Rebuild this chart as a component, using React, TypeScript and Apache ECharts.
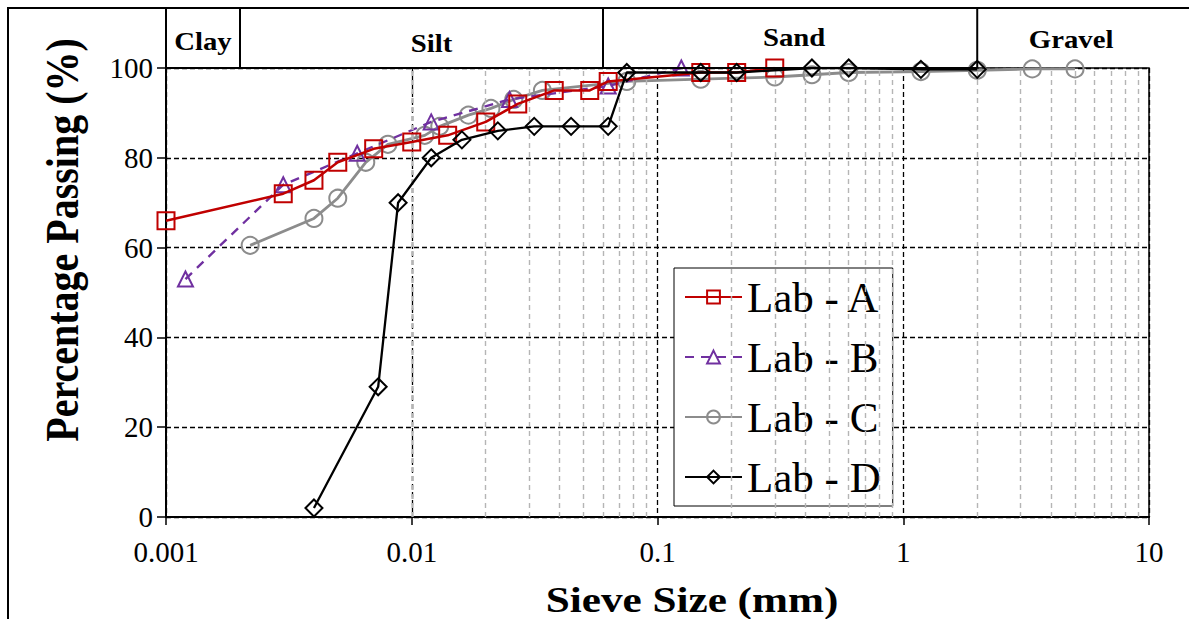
import React, { useEffect, useRef } from 'react';
import * as echarts from 'echarts';

// ---- Data ----
const xTickLabels = ['0.001', '0.01', '0.1', '1', '10'];
const yTickValues = [0, 20, 40, 60, 80, 100];

const bandEdges = [0.001, 0.002, 0.06, 2];
const bandNames = ['Clay', 'Silt', 'Sand', 'Gravel'];

const labA_x = [0.001, 0.003, 0.004, 0.005, 0.007, 0.01, 0.014, 0.02, 0.027, 0.038, 0.053, 0.063, 0.15, 0.21, 0.3];
const labA_y = [66, 72, 75, 79, 82, 83.5, 85, 88, 92, 95, 95, 97, 99, 99, 100];

const labB_x = [0.0012, 0.003, 0.006, 0.012, 0.025, 0.063, 0.125];
const labB_y = [53, 74, 81, 88, 93, 96, 100];

const labC_x = [0.0022, 0.004, 0.005, 0.0065, 0.008, 0.0113, 0.013, 0.017, 0.021, 0.026, 0.034, 0.075, 0.15, 0.3, 0.425, 0.6, 1.18, 2, 3.35, 5];
const labC_y = [60.5, 66.5, 71, 79, 83, 85, 87, 89.5, 91, 93, 95, 97, 97.5, 98, 98.5, 99, 99.2, 99.5, 99.8, 99.8];

const labD_x = [0.004, 0.0073, 0.0088, 0.012, 0.016, 0.0224, 0.0315, 0.0445, 0.063, 0.075, 0.15, 0.21, 0.425, 0.6, 1.18, 2];
const labD_y = [2, 29, 70, 80, 84, 86, 87, 87, 87, 99, 99, 99, 100, 100, 99.7, 99.7];

const seriesNames = ['Lab - A', 'Lab - B', 'Lab - C', 'Lab - D'];

function zip(xs: number[], ys: number[]) {
  return xs.map((x, i) => [x, ys[i]]);
}

// minor grid positions: 2..9 within each decade
const minorGrid: number[] = [];
for (let d = -3; d < 1; d++) {
  for (let m = 2; m <= 9; m++) minorGrid.push(parseFloat((m * Math.pow(10, d)).toPrecision(3)));
}

export default function App() {
  const ref = useRef<HTMLDivElement>(null);

  useEffect(() => {
    const chart = echarts.init(ref.current!, null, { renderer: 'svg' });
    const font = '"Liberation Serif", "Times New Roman", serif';

    const mk = (
      name: string,
      data: number[][],
      color: string,
      symbol: string,
      size: number,
      lineType: any,
      width: number,
      z: number
    ) => ({
      name,
      type: 'line',
      data,
      symbol,
      symbolSize: size,
      showSymbol: true,
      z,
      lineStyle: { color, width, type: lineType },
      itemStyle: { color: 'rgba(255,255,255,0)', borderColor: color, borderWidth: 2 },
      emphasis: { disabled: true },
    });

    const option: any = {
      animation: false,
      backgroundColor: '#fff',
      grid: {
        left: 166,
        right: 40,
        top: 68,
        bottom: 102,
        show: true,
        borderColor: '#000',
        borderWidth: 1.5,
        backgroundColor: 'transparent',
      },
      legend: {
        orient: 'vertical',
        left: 674,
        top: 268,
        data: seriesNames,
        itemWidth: 57,
        itemHeight: 16,
        itemGap: 16,
        padding: [7, 12, 7, 10],
        backgroundColor: '#fff',
        borderColor: '#000',
        borderWidth: 1,
        borderRadius: 0,
        textStyle: { fontFamily: font, fontSize: 43, color: '#000', lineHeight: 44 },
        selectedMode: false,
      },
      xAxis: {
        type: 'log',
        logBase: 10,
        min: 0.001,
        max: 10,
        axisLine: { show: true, lineStyle: { color: '#000', width: 2 } },
        axisTick: { show: true, inside: false, length: 8, lineStyle: { color: '#000', width: 1.5 } },
        axisLabel: {
          fontFamily: font,
          fontSize: 29,
          color: '#000',
          margin: 20,
          formatter: (v: number) => xTickLabels[Math.round(Math.log10(v)) + 3],
        },
        splitLine: { show: true, lineStyle: { color: '#000', width: 1.3, type: [5, 3] } },
        minorTick: { show: false },
        minorSplitLine: { show: false },
      },
      yAxis: {
        type: 'value',
        min: 0,
        max: 100,
        interval: 20,
        axisLine: { show: true, lineStyle: { color: '#000', width: 2 } },
        axisTick: { show: true, inside: false, length: 9, lineStyle: { color: '#000', width: 1.5 } },
        axisLabel: {
          fontFamily: font,
          fontSize: 29,
          color: '#000',
          margin: 13,
          formatter: (v: number) => (yTickValues.includes(v) ? String(v) : ''),
        },
        splitLine: { show: true, lineStyle: { color: '#000', width: 1.3, type: [5, 3] } },
      },
      series: [
        {
          name: 'minor-grid',
          type: 'line',
          data: [],
          z: 1,
          silent: true,
          markLine: {
            silent: true,
            symbol: ['none', 'none'],
            label: { show: false },
            lineStyle: { color: '#b5b5b5', width: 1.4, type: [5, 4] },
            emphasis: { disabled: true },
            data: minorGrid.map((v) => ({ xAxis: v })),
          },
        },
        mk(seriesNames[2], zip(labC_x, labC_y), '#8c8c8c', 'circle', 17, 'solid', 2.8, 3),
        mk(seriesNames[1], zip(labB_x, labB_y), '#7030A0', 'triangle', 15, [9, 7], 2.4, 4),
        mk(seriesNames[0], zip(labA_x, labA_y), '#C00000', 'rect', 17, 'solid', 2.5, 5),
        mk(seriesNames[3], zip(labD_x, labD_y), '#000000', 'diamond', 17, 'solid', 2.3, 6),
      ],
    };

    chart.setOption(option);

    const px = (x: number, y: number) => chart.convertToPixel({ gridIndex: 0 }, [x, y]) as number[];
    const topY = px(1, 100)[1];
    const edgesPx = bandEdges.map((v) => px(v, 100)[0]);
    const rightPx = px(10, 100)[0];
    const frameTop = 8;

    const labelPos = [
      { x: (edgesPx[0] + edgesPx[1]) / 2, y: 42 },
      { x: (edgesPx[1] + edgesPx[2]) / 2 + 10, y: 44 },
      { x: (edgesPx[2] + edgesPx[3]) / 2 + 4, y: 38 },
      { x: (edgesPx[3] + rightPx) / 2 + 8, y: 40 },
    ];

    const graphic: any[] = [
      {
        type: 'rect',
        shape: { x: 8, y: frameTop, width: 1260, height: 700 },
        style: { fill: 'none', stroke: '#000', lineWidth: 2 },
        silent: true,
        z: 100,
      },
      {
        type: 'line',
        shape: { x1: edgesPx[0], y1: topY, x2: edgesPx[3], y2: topY },
        style: { stroke: '#000', lineWidth: 2 },
        silent: true,
        z: 100,
      },
      ...edgesPx.map((x) => ({
        type: 'line',
        shape: { x1: x, y1: frameTop, x2: x, y2: topY },
        style: { stroke: '#000', lineWidth: 2 },
        silent: true,
        z: 100,
      })),
      ...bandNames.map((n, i) => ({
        type: 'text',
        x: labelPos[i].x,
        y: labelPos[i].y,
        scaleX: 1.15,
        silent: true,
        z: 100,
        style: {
          text: n,
          fontFamily: font,
          fontWeight: 'bold',
          fontSize: 25,
          fill: '#000',
          align: 'center',
          verticalAlign: 'middle',
        },
      })),
      {
        type: 'text',
        x: 692,
        y: 600,
        scaleX: 1.2,
        silent: true,
        z: 100,
        style: {
          text: 'Sieve Size (mm)',
          fontFamily: font,
          fontWeight: 'bold',
          fontSize: 36,
          fill: '#000',
          align: 'center',
          verticalAlign: 'middle',
        },
      },
      {
        type: 'text',
        x: 63,
        y: 240,
        rotation: Math.PI / 2,
        scaleY: 1.15,
        silent: true,
        z: 100,
        style: {
          text: 'Percentage Passing (%)',
          fontFamily: font,
          fontWeight: 'bold',
          fontSize: 40,
          fill: '#000',
          align: 'center',
          verticalAlign: 'middle',
        },
      },
    ];

    chart.setOption({ graphic });

    return () => chart.dispose();
  }, []);

  return <div ref={ref} style={{ position: 'fixed', left: 0, top: 0, width: 1189, height: 619 }} />;
}
